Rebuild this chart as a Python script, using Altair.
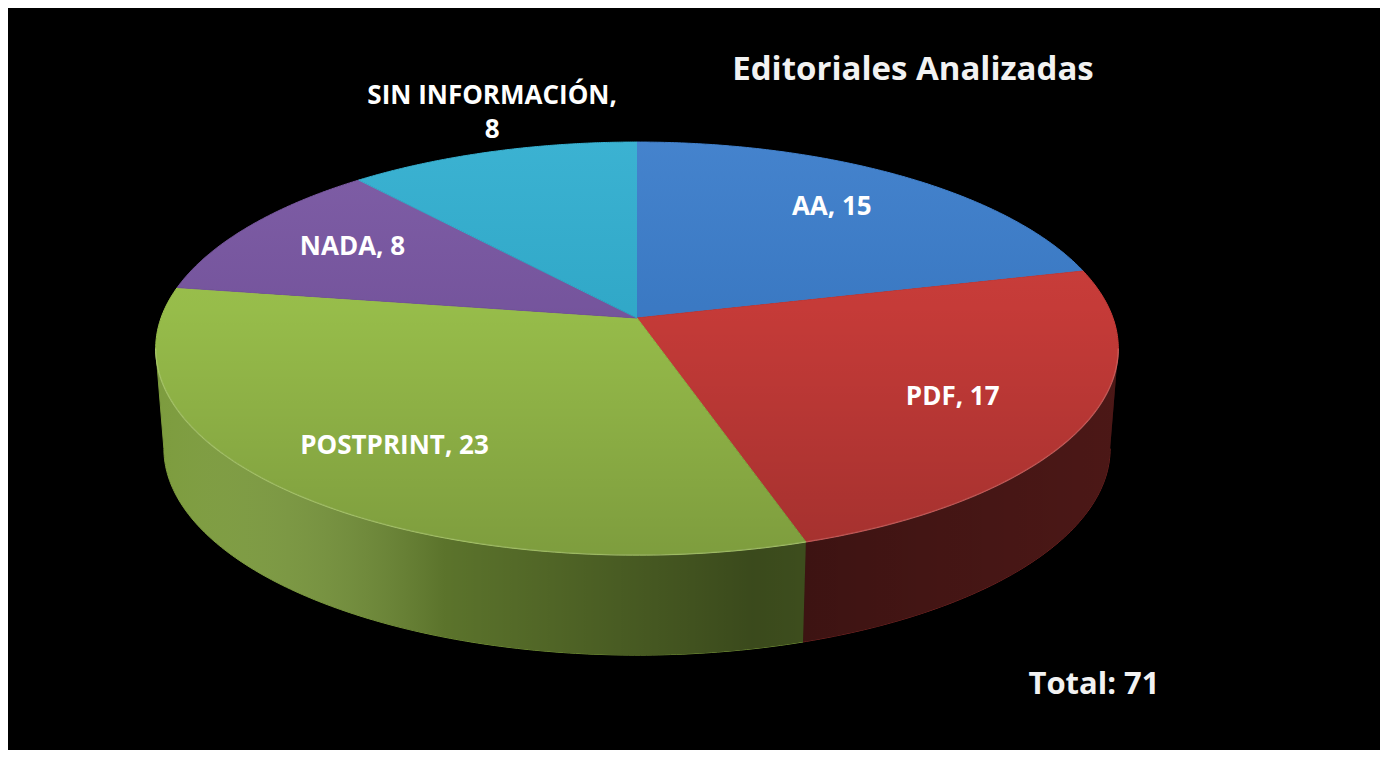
import altair as alt
import pandas as pd

# ---- data ----
categories = ["AA", "PDF", "POSTPRINT", "NADA", "SIN INFORMACIÓN"]
values = [15, 17, 23, 8, 8]
top_colors = ["#3d7ecb", "#cd3d3a", "#9dc44d", "#7a58a3", "#33afd0"]
side_colors = ["#23497a", "#7a2624", "#7a9a3a", "#4a3566", "#1f6a80"]
title_text = "Editoriales Analizadas"
total_prefix = "Total: "

# ---- layout / style constants ----
W, H = 1372, 742
CX, CY = 629, 310          # projected pie centre
A, B, Q = 476, 202, 0.148  # projected radii and perspective factor
D = 100                    # depth of the 3D side
SB = 0.983                 # bottom rim horizontal shrink (perspective)
N = 160                    # arc resolution
FONT = "Open Sans"

df = pd.DataFrame({"category": categories, "value": values,
                   "idx": list(range(len(categories)))})

xs = alt.X("px:Q", scale=alt.Scale(domain=[0, W], nice=False, zero=False), axis=None)
ys = alt.Y("py:Q", scale=alt.Scale(domain=[0, H], nice=False, zero=False, reverse=True), axis=None)
top_scale = alt.Scale(domain=categories, range=top_colors)
side_scale = alt.Scale(domain=categories, range=side_colors)


def pxe(th, f="1"):
    return f"{CX} + {A}*({f})*sin({th})/(1+{Q}*({f})*cos({th}))"


def pye(th, f="1"):
    return f"{CY} - {B}*({f})*cos({th})/(1+{Q}*({f})*cos({th}))"


TH_R = f"acos(-{Q})"  # silhouette angle of the projected disc

base = alt.Chart(df).transform_window(
    cum="sum(value)", sort=[alt.SortField("idx")], frame=[None, 0]
).transform_joinaggregate(total="sum(value)").transform_calculate(
    t0="2*PI*(datum.cum-datum.value)/datum.total",
    t1="2*PI*datum.cum/datum.total",
)

# ---- side walls ----
side = base.transform_calculate(
    s0=f"max(datum.t0, {TH_R})", s1=f"min(datum.t1, 2*PI-{TH_R})",
    side_cat="datum.category",
).transform_filter("datum.s1 > datum.s0").transform_calculate(
    k=f"sequence(0, {2 * N + 2})"
).transform_flatten(["k"]).transform_calculate(
    dn=f"datum.k > {N} ? 1 : 0",
    th=f"datum.k <= {N} ? datum.s0 + (datum.s1-datum.s0)*datum.k/{N} : datum.s1 - (datum.s1-datum.s0)*(datum.k-{N + 1})/{N}",
).transform_calculate(
    px=f"{CX} + (1 - datum.dn*{1 - SB})*{A}*sin(datum.th)/(1+{Q}*cos(datum.th))",
    py=pye("datum.th") + f" + datum.dn*{D}",
).mark_line(strokeWidth=1, strokeJoin="round", opacity=1).encode(
    x=xs, y=ys, order="k:Q", detail="side_cat:N",
    fill=alt.Fill("side_cat:N", scale=side_scale, legend=None),
    stroke=alt.Stroke("side_cat:N", scale=side_scale, legend=None),
)

side_shade = alt.Chart(alt.sequence(0, 2 * N + 2, as_="k")).transform_calculate(
    s0=TH_R, s1=f"2*PI-{TH_R}"
).transform_calculate(
    dn=f"datum.k > {N} ? 1 : 0",
    th=f"datum.k <= {N} ? datum.s0 + (datum.s1-datum.s0)*datum.k/{N} : datum.s1 - (datum.s1-datum.s0)*(datum.k-{N + 1})/{N}",
).transform_calculate(
    px=f"{CX} + (1 - datum.dn*{1 - SB})*{A}*sin(datum.th)/(1+{Q}*cos(datum.th))",
    py=pye("datum.th") + f" + datum.dn*{D}",
).mark_line(
    strokeOpacity=0,
    fill=alt.LinearGradient(
        gradient="linear", x1=0, x2=1, y1=0, y2=0,
        stops=[alt.GradientStop(color="rgba(255,255,255,0.02)", offset=0),
               alt.GradientStop(color="rgba(0,0,0,0.25)", offset=0.3),
               alt.GradientStop(color="rgba(0,0,0,0.52)", offset=0.62),
               alt.GradientStop(color="rgba(0,0,0,0.45)", offset=0.8),
               alt.GradientStop(color="rgba(0,0,0,0.38)", offset=1)],
    ),
).encode(x=xs, y=ys, order="k:Q")

# ---- top faces ----
top = base.transform_calculate(
    k=f"sequence(-1, {N + 1})"
).transform_flatten(["k"]).transform_calculate(
    th=f"datum.t0 + (datum.t1-datum.t0)*max(datum.k,0)/{N}"
).transform_calculate(
    px=f"datum.k < 0 ? {CX} : " + pxe("datum.th"),
    py=f"datum.k < 0 ? {CY} : " + pye("datum.th"),
).mark_line(strokeWidth=1, strokeJoin="round", opacity=1).encode(
    x=xs, y=ys, order="k:Q", detail="category:N",
    fill=alt.Fill("category:N", scale=top_scale, legend=None),
    stroke=alt.Stroke("category:N", scale=top_scale, legend=None),
)

top_shade = alt.Chart(alt.sequence(0, N + 1, as_="k")).transform_calculate(
    th=f"2*PI*datum.k/{N}"
).transform_calculate(
    px=pxe("datum.th"), py=pye("datum.th")
).mark_line(
    strokeOpacity=0,
    fill=alt.LinearGradient(
        gradient="linear", x1=0, x2=0, y1=0, y2=1,
        stops=[alt.GradientStop(color="rgba(255,255,255,0.04)", offset=0),
               alt.GradientStop(color="rgba(0,0,0,0.04)", offset=0.4),
               alt.GradientStop(color="rgba(0,0,0,0.2)", offset=1)],
    ),
).encode(x=xs, y=ys, order="k:Q")

rim = alt.Chart(alt.sequence(0, N + 1, as_="k")).transform_calculate(
    th=f"{TH_R} + (2*PI - 2*{TH_R})*datum.k/{N}"
).transform_calculate(
    px=pxe("datum.th"), py=pye("datum.th")
).mark_line(stroke="rgba(255,255,255,0.16)", strokeWidth=1.5).encode(
    x=xs, y=ys, order="k:Q"
)

# ---- labels (long labels go outside, above the rim) ----
labels = base.transform_calculate(
    m="(datum.t0+datum.t1)/2",
    out="length(datum.category) > 12 ? 1 : 0",
    lab="length(datum.category) > 12 ? datum.category + ',\\n' + datum.value : datum.category + ', ' + datum.value",
).transform_calculate(
    fx="datum.out ? 1.0 : 0.72",
    fy="datum.out ? 1.4 : 0.76",
).transform_calculate(
    px=pxe("datum.m", "datum.fx"), py=pye("datum.m", "datum.fy"),
).mark_text(
    font=FONT, fontWeight="bold", fontSize=26, color="white",
    align="center", baseline="middle", lineBreak="\n", lineHeight=34,
).encode(x=xs, y=ys, text="lab:N")

title = alt.Chart(pd.DataFrame({"t": [title_text]})).mark_text(
    font=FONT, fontWeight="bold", fontSize=33, color="#f2f2f2",
    align="center", baseline="middle",
).encode(text="t:N", x=alt.value(905), y=alt.value(62))

total = base.transform_aggregate(total="sum(value)").transform_calculate(
    lab=f"'{total_prefix}' + datum.total"
).mark_text(
    font=FONT, fontWeight="bold", fontSize=31, color="#f2f2f2",
    align="center", baseline="middle",
).encode(text="lab:N", x=alt.value(1086), y=alt.value(677))

chart = alt.layer(side, side_shade, top, top_shade, rim, labels, title, total).resolve_scale(
    fill="independent", stroke="independent"
).properties(
    width=W, height=H, background="black", padding=0,
    autosize=alt.AutoSizeParams(type="fit", contains="padding"),
).configure_view(stroke=None)

chart.save("out.html", embed_options={"renderer": "svg", "actions": False})
